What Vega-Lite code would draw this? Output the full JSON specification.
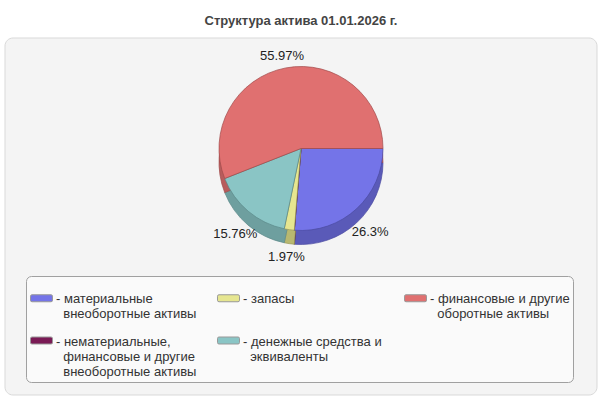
{
  "$schema": "https://vega.github.io/schema/vega-lite/v6.json",
  "width": 592,
  "height": 357,
  "autosize": "none",
  "padding": {"left": 5, "top": 38, "right": 3, "bottom": 5},
  "background": "white",
  "title": {
    "text": "Структура актива 01.01.2026 г.",
    "font": "Liberation Sans",
    "fontSize": 13,
    "fontWeight": "bold",
    "color": "#444444",
    "anchor": "middle",
    "offset": 10
  },
  "config": {
    "view": {"fill": "#f4f4f4", "stroke": "#d9d9d9", "cornerRadius": 8},
    "font": "Liberation Sans"
  },
  "data": {
    "values": [
      {"n": 1, "cat": "материальные внеоборотные активы", "share": 0.263},
      {"n": 2, "cat": "нематериальные, финансовые и другие внеоборотные активы", "share": 0},
      {"n": 3, "cat": "запасы", "share": 0.0197},
      {"n": 4, "cat": "денежные средства и эквиваленты", "share": 0.1576},
      {"n": 5, "cat": "финансовые и другие оборотные активы", "share": 0.5597}
    ]
  },
  "layer": [
    {
      "data": {"values": [{}]},
      "mark": {"type": "rect", "fill": "#f4f4f4", "stroke": "#d9d9d9", "cornerRadius": 8},
      "encoding": {}
    },
    {
      "mark": {"type": "arc", "outerRadius": 82, "yOffset": -54, "strokeWidth": 0.7},
      "encoding": {
        "theta": {"field": "share", "type": "quantitative", "stack": true, "scale": {"range": [1.5707963, 7.8539816]}},
        "order": {"field": "n"},
        "fill": {
          "field": "cat",
          "type": "nominal",
          "scale": {
            "domain": ["материальные внеоборотные активы", "нематериальные, финансовые и другие внеоборотные активы", "запасы", "денежные средства и эквиваленты", "финансовые и другие оборотные активы"],
            "range": ["#5a5ab8", "#5e1242", "#b8b870", "#6e9f9f", "#b85c5c"]
          },
          "legend": null
        },
        "stroke": {
          "field": "cat",
          "type": "nominal",
          "scale": {
            "domain": ["финансовые и другие оборотные активы", "денежные средства и эквиваленты", "запасы", "нематериальные, финансовые и другие внеоборотные активы", "материальные внеоборотные активы"],
            "range": ["#a04a4a", "#5a8888", "#9a9a5a", "#4a0e34", "#4a4aa0"]
          },
          "legend": null
        }
      }
    },
    {
      "mark": {"type": "arc", "outerRadius": 82, "yOffset": -68, "strokeWidth": 0.7},
      "encoding": {
        "theta": {"field": "share", "type": "quantitative", "stack": true},
        "order": {"field": "n"},
        "color": {
          "field": "cat",
          "type": "nominal",
          "scale": {
            "domain": ["материальные внеоборотные активы", "запасы", "финансовые и другие оборотные активы", "нематериальные, финансовые и другие внеоборотные активы", "денежные средства и эквиваленты"],
            "range": ["#7474e8", "#e6e690", "#e07070", "#7a1a55", "#8ac5c5"]
          },
          "legend": {
            "title": null,
            "orient": "none",
            "legendX": 21,
            "legendY": 238,
            "columns": 3,
            "direction": "horizontal",
            "gridAlign": "all",
            "columnPadding": 18,
            "rowPadding": -11,
            "padding": 3,
            "fillColor": "#fafafa",
            "strokeColor": "#a0a0a0",
            "cornerRadius": 5,
            "symbolType": "M-1.9,0.3L1.9,0.3Q2.2,0.3 2.2,0.6L2.2,1.4Q2.2,1.7 1.9,1.7L-1.9,1.7Q-2.2,1.7 -2.2,1.4L-2.2,0.6Q-2.2,0.3 -1.9,0.3Z",
            "symbolSize": 100,
            "symbolOffset": 6,
            "symbolStrokeColor": "#999999",
            "symbolStrokeWidth": 1,
            "labelFont": "Liberation Sans",
            "labelFontSize": 13,
            "labelColor": "#333333",
            "labelOffset": 8,
            "labelLimit": 300,
            "labelBaseline": "top",
            "labelExpr": "datum.label == 'материальные внеоборотные активы' ? ['- материальные', '\u200b\u00a0\u00a0внеоборотные активы'] : datum.label == 'запасы' ? ['- запасы', ''] : datum.label == 'финансовые и другие оборотные активы' ? ['- финансовые и другие', '\u200b\u00a0\u00a0оборотные активы'] : datum.label == 'денежные средства и эквиваленты' ? ['- денежные средства и', '\u200b\u00a0\u00a0эквиваленты', ''] : ['- нематериальные,', '\u200b\u00a0\u00a0финансовые и другие', '\u200b\u00a0\u00a0внеоборотные активы']"
          }
        },
        "stroke": {
          "field": "cat",
          "type": "nominal",
          "legend": null
        }
      }
    },
    {
      "transform": [{"filter": "datum.share > 0"}],
      "mark": {"type": "text", "radius": 102, "yOffset": -60, "font": "Liberation Sans", "fontSize": 13, "color": "#222222"},
      "encoding": {
        "theta": {"field": "share", "type": "quantitative", "stack": true},
        "order": {"field": "n"},
        "text": {"field": "share", "type": "quantitative", "format": ".4~p"}
      }
    }
  ]
}
